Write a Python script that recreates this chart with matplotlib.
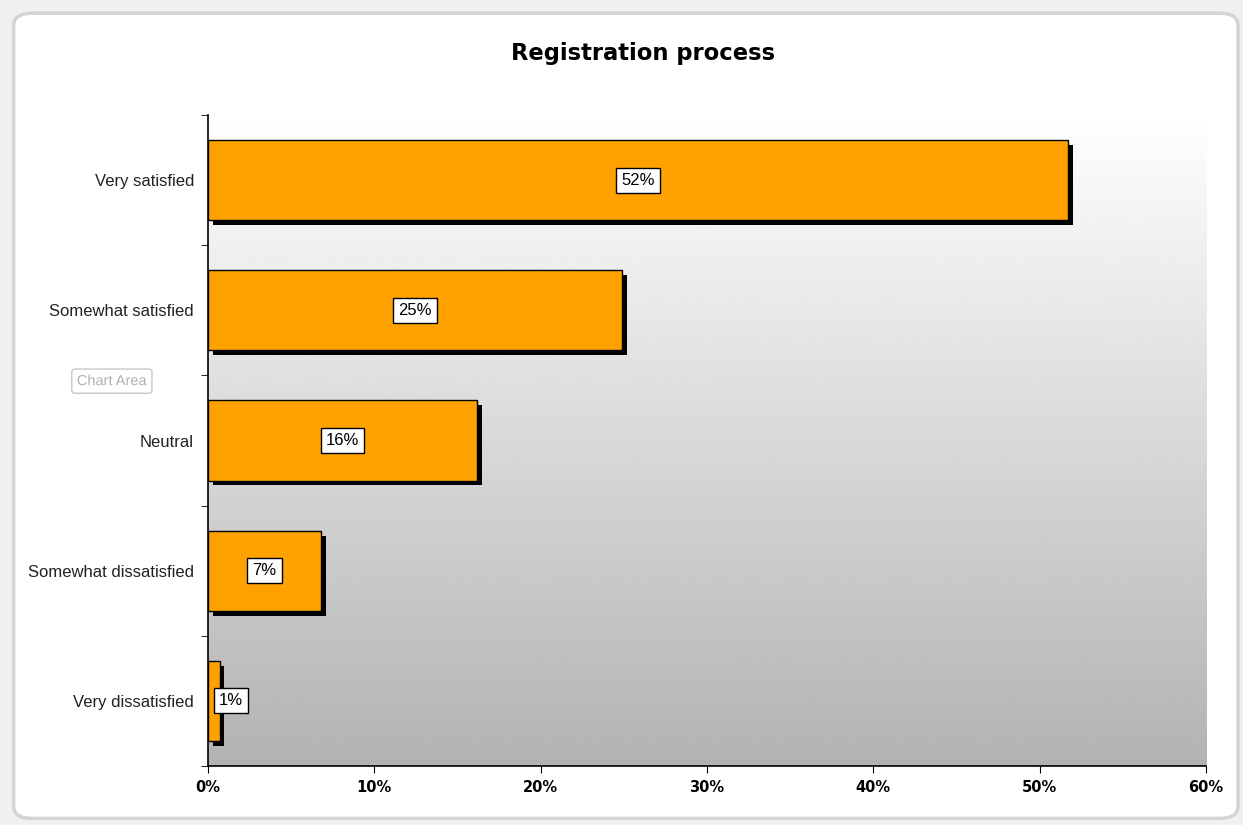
"""Registration process satisfaction bar chart"""
import numpy as np
import matplotlib.pyplot as plt
import matplotlib.patheffects as pe
from matplotlib.patches import FancyBboxPatch
from matplotlib.ticker import FuncFormatter

categories = ["Very satisfied", "Somewhat satisfied", "Neutral",
              "Somewhat dissatisfied", "Very dissatisfied"]
values = [51.7, 24.9, 16.2, 6.8, 0.7]
value_labels = ["52%", "25%", "16%", "7%", "1%"]
x_ticks = [0, 10, 20, 30, 40, 50, 60]

fig = plt.figure(figsize=(12.43, 8.25), dpi=100)
fig.patch.set_facecolor("#f0f0f0")

# chart area frame with rounded corners
frame = FancyBboxPatch((0.011, 0.008), 0.985, 0.976,
                       boxstyle="round,pad=0,rounding_size=0.015",
                       transform=fig.transFigure, facecolor="white",
                       edgecolor="#d4d4d4", linewidth=2.5, zorder=0)
fig.patches.append(frame)

ax = fig.add_axes([0.1673, 0.0715, 0.8029, 0.7891])
ax.set_zorder(2)
ax.patch.set_alpha(0)

ypos = np.arange(len(categories))
ax.set_xlim(0, 60)
ax.set_ylim(len(categories) - 0.5, -0.5)

# gradient background
grad = np.linspace(1.0, 0.70, 256).reshape(-1, 1)
ax.imshow(grad, cmap="gray", vmin=0, vmax=1, aspect="auto",
          extent=[0, 60, len(categories) - 0.5, -0.5], zorder=0)

bars = ax.barh(ypos, values, height=0.615, color="#ffa200",
               edgecolor="black", linewidth=1, zorder=3)
for b in bars:
    b.set_path_effects([pe.SimplePatchShadow(offset=(3.5, -3.5),
                                             shadow_rgbFace="black", alpha=1),
                        pe.Normal()])

for y, v, lab in zip(ypos, values, value_labels):
    ax.text(max(v / 2, 1.4), y, lab, ha="center", va="center",
            fontsize=12, family="Liberation Sans", zorder=5,
            bbox=dict(boxstyle="square,pad=0.3", facecolor="white",
                      edgecolor="black", linewidth=1))

ax.set_yticks(ypos)
ax.set_yticklabels(categories, fontsize=12, family="Liberation Sans",
                   color="#222222")
ax.set_yticks(np.arange(-0.5, len(categories), 1), minor=True)
ax.tick_params(axis="y", which="major", length=0, pad=10)
ax.tick_params(axis="y", which="minor", length=5, direction="out")

ax.set_xticks(x_ticks)
ax.xaxis.set_major_formatter(FuncFormatter(lambda v, p: f"{v:.0f}%"))
for t in ax.get_xticklabels():
    t.set_fontweight("bold")
    t.set_fontsize(10.5)
    t.set_family("DejaVu Sans")
ax.tick_params(axis="x", length=5, direction="out", pad=5)

for s in ["top", "right"]:
    ax.spines[s].set_visible(False)
ax.spines["left"].set_linewidth(1.2)
ax.spines["bottom"].set_linewidth(1.2)

fig.text(0.517, 0.935, "Registration process", ha="center", va="center",
         fontsize=16.3, fontweight="bold", family="DejaVu Sans")

# excel tooltip
fig.text(0.09, 0.538, "Chart Area", ha="center", va="center", fontsize=10.5,
         color="#b0b0b0", family="Liberation Sans", zorder=10,
         bbox=dict(boxstyle="round,pad=0.35,rounding_size=0.2",
                   facecolor="white", edgecolor="#c8c8c8", linewidth=1),
         path_effects=[pe.Normal()])

fig.savefig("out.png", dpi=100)
